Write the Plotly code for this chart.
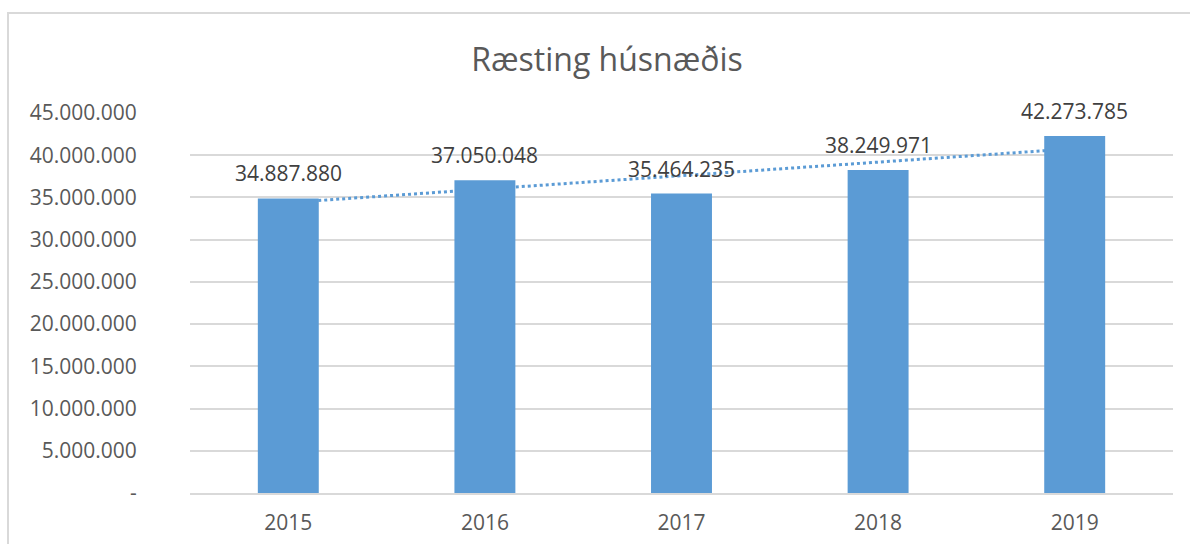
import numpy as np
import plotly.graph_objects as go

years = ["2015", "2016", "2017", "2018", "2019"]
values = [34887880, 37050048, 35464235, 38249971, 42273785]
tick_vals = [0, 5000000, 10000000, 15000000, 20000000, 25000000, 30000000, 35000000, 40000000, 45000000]
tick_text = ["-", "5.000.000", "10.000.000", "15.000.000", "20.000.000", "25.000.000",
             "30.000.000", "35.000.000", "40.000.000", "45.000.000"]
title_text = "Ræsting húsnæðis"

def fmt(v):
    return f"{v:,}".replace(",", ".")

# linear trendline (Excel-style), computed from the data
xi = np.arange(1, len(values) + 1)
slope, intercept = np.polyfit(xi, values, 1)
trend = slope * xi + intercept

FONT = "Open Sans"
GREY = "#595959"
BLUE = "#5B9BD5"
GRID = "#D9D9D9"

fig = go.Figure()
# trendline on the main axes (drawn below the bars on overlay axes)
fig.add_trace(go.Scatter(x=years, y=trend, mode="lines",
                         line=dict(color=BLUE, width=3, dash="dot"),
                         hoverinfo="skip", showlegend=False))
fig.add_trace(go.Bar(x=years, y=values, marker=dict(color=BLUE, line=dict(width=0)),
                     xaxis="x2", yaxis="y2", showlegend=False))

annotations = []
for i, v in enumerate(values):
    annotations.append(dict(x=i, y=v, xref="x", yref="y", text=fmt(v), showarrow=False,
                            yanchor="bottom", yshift=9,
                            font=dict(family=FONT, size=21, color="#404040")))

cat_range = [-0.5, len(years) - 0.5]

fig.update_layout(
    template="none",
    width=1190, height=544,
    margin=dict(l=190, r=17, t=113, b=51, autoexpand=False),
    paper_bgcolor="white", plot_bgcolor="white",
    bargap=0.69,
    annotations=annotations,
    title=dict(text=title_text, x=607 / 1190, xref="container", xanchor="center",
               y=1 - 60 / 544, yref="container", yanchor="middle",
               font=dict(family=FONT, size=32, color=GREY)),
    xaxis=dict(type="category", categoryorder="array", categoryarray=years,
               range=cat_range, automargin=False,
               showgrid=False, showline=True, linecolor=GRID, linewidth=1.5,
               ticks="outside", ticklen=10, tickcolor="rgba(0,0,0,0)",
               tickfont=dict(family=FONT, size=21, color=GREY)),
    yaxis=dict(range=[0, 45000000], tickvals=tick_vals, ticktext=tick_text, automargin=False,
               showgrid=True, gridcolor=GRID, gridwidth=1.5, zeroline=False,
               showline=False, ticks="outside", ticklen=48, tickcolor="rgba(0,0,0,0)",
               tickfont=dict(family=FONT, size=21, color=GREY)),
    xaxis2=dict(type="category", categoryorder="array", categoryarray=years,
                range=cat_range, overlaying="x", automargin=False,
                showgrid=False, showticklabels=False, showline=False, zeroline=False),
    yaxis2=dict(overlaying="y", range=[0, 45000000], automargin=False, showgrid=False,
                showticklabels=False, zeroline=False, showline=False),
    shapes=[dict(type="rect", xref="paper", yref="paper",
                 x0=(8 - 190) / 983, x1=(1200 - 190) / 983,
                 y0=(493 - 560) / 380, y1=(493 - 13) / 380,
                 line=dict(color=GRID, width=2), fillcolor="rgba(0,0,0,0)", layer="below")],
)

fig.write_html("out.html", config={"displayModeBar": False},
               post_script="document.body.style.margin='0';document.body.style.overflow='hidden';")
